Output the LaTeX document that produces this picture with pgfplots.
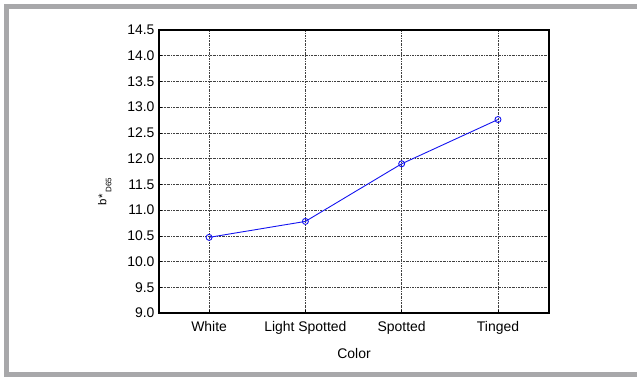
\documentclass[border=0pt]{standalone}
\usepackage{pgfplots}
\pgfplotsset{compat=1.18}
\usepackage{fontspec}
\setmainfont{Liberation Sans}
\definecolor{framegray}{RGB}{168,168,170}
\definecolor{lineblue}{RGB}{20,20,240}
\begin{document}
\begin{tikzpicture}[x=1bp,y=1bp]
\useasboundingbox (0,0) rectangle (637,378);
% outer frame
\fill[framegray] (4,369) rectangle (637,374);
\fill[framegray] (4,1) rectangle (9,374);
\fill[framegray] (4,1) rectangle (637,6);
\begin{axis}[
  at={(159bp,65bp)}, anchor=south west,
  scale only axis, width=390bp, height=283bp,
  xmin=-0.52, xmax=3.53, ymin=9, ymax=14.5,
  xtick={0,1,2,3},
  xticklabels={White,Light Spotted,Spotted,Tinged},
  ytick={9,9.5,...,14.5},
  /pgf/number format/fixed,
  /pgf/number format/fixed zerofill,
  /pgf/number format/precision=1,
  /pgf/number format/assume math mode=true,
  ticklabel style={font=\fontsize{14}{16}\selectfont},
  xlabel style={font=\fontsize{14}{16}\selectfont, yshift=-7bp},
  ylabel style={font=\fontsize{11.5}{13}\selectfont, yshift=9bp, xshift=-20bp},
  xlabel={Color},
  ylabel={b*\,\raisebox{-5bp}{\fontsize{8}{9}\selectfont D65}},
  axis line style={line width=1.6bp},
  tick style={black, line width=0.6bp},
  major tick length=3bp,
  tick align=inside,
  xtick pos=bottom, ytick pos=left,
  grid=major,
  major grid style={black!75, line width=0.5bp, dash pattern=on 2bp off 1bp on 0.6bp off 1bp},
  xticklabel style={yshift=-5bp},
  yticklabel style={xshift=-1bp},
]
\addplot[lineblue, line width=0.9bp, mark=o, mark size=3bp, mark options={fill=white, solid}]
  coordinates {(0,10.47) (1,10.78) (2,11.90) (3,12.76)};
\end{axis}
\end{tikzpicture}
\end{document}
